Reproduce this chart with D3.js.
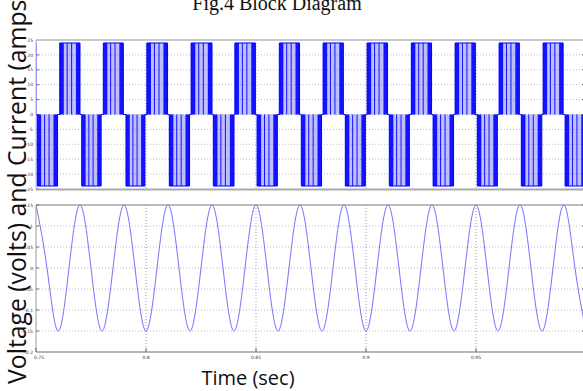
<!DOCTYPE html>
<html>
<head>
<meta charset="utf-8">
<script src="https://cdn.jsdelivr.net/npm/d3@7"></script>
<style>
  html, body { margin: 0; padding: 0; background: #fff; overflow: hidden; }
  svg { display: block; }
</style>
</head>
<body>
<svg id="chart" width="583" height="391"></svg>
<script>
// ---- data ---------------------------------------------------------------
// inverter output current: switching blocks (start, end) in seconds
const posStart = [0.7407, 0.7608, 0.7806, 0.8004, 0.8205, 0.8404, 0.8606, 0.8805, 0.9005, 0.9206, 0.9405, 0.9605, 0.9805];
const posEnd   = [0.7500, 0.7700, 0.7897, 0.8098, 0.8300, 0.8497, 0.8698, 0.8897, 0.9098, 0.9298, 0.9497, 0.9697, 0.9896];
const negStart = [0.7505, 0.7708, 0.7909, 0.8106, 0.8306, 0.8505, 0.8706, 0.8906, 0.9106, 0.9305, 0.9506, 0.9706, 0.9905];
const negEnd   = [0.7598, 0.7796, 0.7995, 0.8198, 0.8400, 0.8597, 0.8798, 0.8997, 0.9197, 0.9398, 0.9597, 0.9799, 0.9997];
const currentLevel = 24;
// dense switching bands inside one block (fraction of block width)
const switchBands = [[0, 0.2], [0.34, 0.39], [0.56, 0.61], [0.8, 1.0]];

// output voltage samples
const vTime = [0.750, 0.755, 0.760, 0.765, 0.770, 0.775, 0.780, 0.785, 0.790, 0.795,
               0.800, 0.805, 0.810, 0.815, 0.820, 0.825, 0.830, 0.835, 0.840, 0.845,
               0.850, 0.855, 0.860, 0.865, 0.870, 0.875, 0.880, 0.885, 0.890, 0.895,
               0.900, 0.905, 0.910, 0.915, 0.920, 0.925, 0.930, 0.935, 0.940, 0.945,
               0.950, 0.955, 0.960, 0.965, 0.970, 0.975, 0.980, 0.985, 0.990, 0.995, 1.000];
const vValue = [0.15, 0, -0.15, 0, 0.15, 0, -0.15, 0, 0.15, 0,
                -0.15, 0, 0.15, 0, -0.15, 0, 0.15, 0, -0.15, 0,
                0.15, 0, -0.15, 0, 0.15, 0, -0.15, 0, 0.15, 0,
                -0.15, 0, 0.15, 0, -0.15, 0, 0.15, 0, -0.15, 0,
                0.15, 0, -0.15, 0, 0.15, 0, -0.15, 0, 0.15, 0, -0.15];

// axis ticks
const xTicks = [0.75, 0.8, 0.85, 0.9, 0.95];
const xTickLabels = ["0.75", "0.8", "0.85", "0.9", "0.95"];
const iTicks = [25, 20, 15, 10, 5, 0, -5, -10, -15, -20, -25];
const vTicks = [0.15, 0.1, 0.05, 0, -0.05, -0.1, -0.15, -0.2];
const vTickLabels = ["0.15", "0.1", "0.05", "0", "-0.05", "-0.1", "-0.15", "-0.2"];

// ---- layout -------------------------------------------------------------
const svg = d3.select("#chart");
const W = 583, H = 391;
const left = 36, rightEdge = 586;

const x = d3.scaleLinear().domain([0.75, 1.0]).range([left, rightEdge]);
const yI = d3.scaleLinear().domain([-25, 25]).range([189, 40]);
const yV = d3.scaleLinear().domain([-0.2, 0.15]).range([352, 205]);

const defs = svg.append("defs");
defs.append("clipPath").attr("id", "clipTop")
  .append("rect").attr("x", left).attr("y", 38).attr("width", rightEdge - left).attr("height", 153);
defs.append("clipPath").attr("id", "clipBot")
  .append("rect").attr("x", left).attr("y", 203).attr("width", rightEdge - left).attr("height", 151);

// title (partly above the top edge of the page)
svg.append("text")
  .attr("x", 277).attr("y", 10)
  .attr("text-anchor", "middle")
  .attr("font-family", "Liberation Serif, Times New Roman, serif")
  .attr("font-size", 20)
  .attr("fill", "#111")
  .text("Fig.4 Block Diagram");

// ---- panel frame helper ---------------------------------------------------
function panel(y, ticks, labels) {
  const g = svg.append("g");
  const [y0, y1] = y.range();
  // horizontal grid
  g.selectAll("line.hg").data(ticks.slice(1, -1)).join("line")
    .attr("x1", left).attr("x2", rightEdge)
    .attr("y1", d => y(d)).attr("y2", d => y(d))
    .attr("stroke", "#bdbdbd").attr("stroke-width", 1).attr("stroke-dasharray", "1,2");
  // vertical grid
  g.selectAll("line.vg").data(xTicks.slice(1)).join("line")
    .attr("x1", d => x(d)).attr("x2", d => x(d))
    .attr("y1", y1).attr("y2", y0)
    .attr("stroke", "#9a9a9a").attr("stroke-width", 1).attr("stroke-dasharray", "1,2");
  // inward tick marks, left and right
  g.selectAll("line.tl").data(ticks).join("line")
    .attr("x1", left).attr("x2", left + 3)
    .attr("y1", d => y(d)).attr("y2", d => y(d))
    .attr("stroke", "#444").attr("stroke-width", 0.8);
  g.selectAll("line.tr").data(ticks).join("line")
    .attr("x1", rightEdge - 4).attr("x2", rightEdge)
    .attr("y1", d => y(d)).attr("y2", d => y(d))
    .attr("stroke", "#444").attr("stroke-width", 0.8);
  // tick labels
  g.selectAll("text.yl").data(ticks).join("text")
    .attr("x", left - 3).attr("y", d => y(d) + 1.6)
    .attr("text-anchor", "end")
    .attr("font-family", "DejaVu Sans, sans-serif")
    .attr("font-size", 4.5)
    .attr("fill", "#333")
    .text((d, i) => labels[i]);
  return g;
}

// ---- top panel: current ---------------------------------------------------
panel(yI, iTicks, iTicks.map(String));

const blocks = [];
posStart.forEach((s, i) => blocks.push({ s, e: posEnd[i], v: currentLevel }));
negStart.forEach((s, i) => blocks.push({ s, e: negEnd[i], v: -currentLevel }));
blocks.sort((a, b) => a.s - b.s);

const cur = svg.append("g").attr("clip-path", "url(#clipTop)");

// light fill produced by the dense switching
cur.selectAll("rect.fill").data(blocks).join("rect")
  .attr("x", d => x(d.s)).attr("width", d => x(d.e) - x(d.s))
  .attr("y", d => Math.min(yI(d.v), yI(0)))
  .attr("height", d => Math.abs(yI(d.v) - yI(0)))
  .attr("fill", "#0000ff").attr("fill-opacity", 0.25);

// darker switching bands
blocks.forEach(b => {
  cur.selectAll(null).data(switchBands).join("rect")
    .attr("x", d => x(b.s + d[0] * (b.e - b.s)))
    .attr("width", d => Math.max(1, x(b.s + d[1] * (b.e - b.s)) - x(b.s + d[0] * (b.e - b.s))))
    .attr("y", Math.min(yI(b.v), yI(0)))
    .attr("height", Math.abs(yI(b.v) - yI(0)))
    .attr("fill", "#0000ff").attr("fill-opacity", 0.9);
});

// step outline of the current signal
const stepPts = [[0.74, 0]];
blocks.forEach(b => {
  stepPts.push([b.s, 0], [b.s, b.v], [b.e, b.v], [b.e, 0]);
});
stepPts.push([1.0, 0]);
cur.append("path")
  .datum(stepPts)
  .attr("d", d3.line().x(d => x(d[0])).y(d => yI(d[1])))
  .attr("fill", "none").attr("stroke", "#0000ff").attr("stroke-width", 1);

// top panel border
svg.append("line").attr("x1", left).attr("x2", W).attr("y1", 40).attr("y2", 40)
  .attr("stroke", "#c9c9c9").attr("stroke-width", 2);
svg.append("line").attr("x1", left).attr("x2", W).attr("y1", 189.5).attr("y2", 189.5)
  .attr("stroke", "#a9a9a9").attr("stroke-width", 2);
svg.append("line").attr("x1", left).attr("x2", left).attr("y1", 40).attr("y2", 190)
  .attr("stroke", "#b0b0ff").attr("stroke-width", 1);

// ---- bottom panel: voltage -------------------------------------------------
panel(yV, vTicks, vTickLabels);

svg.append("g").attr("clip-path", "url(#clipBot)")
  .append("path")
  .datum(vTime.map((t, i) => [t, vValue[i]]))
  .attr("d", d3.line().x(d => x(d[0])).y(d => yV(d[1])).curve(d3.curveNatural))
  .attr("fill", "none").attr("stroke", "#7070ff").attr("stroke-width", 1);

svg.append("line").attr("x1", left).attr("x2", W).attr("y1", 205).attr("y2", 205)
  .attr("stroke", "#7a7a7a").attr("stroke-width", 1.2);
svg.append("line").attr("x1", left).attr("x2", W).attr("y1", 352).attr("y2", 352)
  .attr("stroke", "#b5b5b5").attr("stroke-width", 2);
svg.append("line").attr("x1", left).attr("x2", left).attr("y1", 205).attr("y2", 352)
  .attr("stroke", "#9a9a9a").attr("stroke-width", 1);

// x ticks (inward, bottom) and labels
svg.selectAll("line.xt").data(xTicks).join("line")
  .attr("x1", d => x(d)).attr("x2", d => x(d))
  .attr("y1", 348).attr("y2", 352)
  .attr("stroke", "#444").attr("stroke-width", 0.8);
svg.selectAll("text.xl").data(xTicks).join("text")
  .attr("x", d => x(d) + (d === 0.75 ? 3 : 0)).attr("y", 359)
  .attr("text-anchor", "middle")
  .attr("font-family", "DejaVu Sans, sans-serif")
  .attr("font-size", 4.5)
  .attr("fill", "#333")
  .text((d, i) => xTickLabels[i]);

// ---- axis titles -----------------------------------------------------------
svg.append("text")
  .attr("x", 248).attr("y", 385)
  .attr("text-anchor", "middle")
  .attr("font-family", "Open Sans, sans-serif")
  .attr("font-size", 20)
  .attr("fill", "#111")
  .text("Time (sec)");

// vertical title runs from the bottom of the page up past the top edge
const yLab = svg.append("text")
  .attr("transform", "translate(26,384) rotate(-90)")
  .attr("font-family", "Open Sans, sans-serif")
  .attr("font-size", 20)
  .attr("fill", "#111")
  .text("Voltage (volts) and Current (amps)");
const labLen = yLab.node().getComputedTextLength();
yLab.attr("font-size", 20 * 392 / labLen);
</script>
</body>
</html>
